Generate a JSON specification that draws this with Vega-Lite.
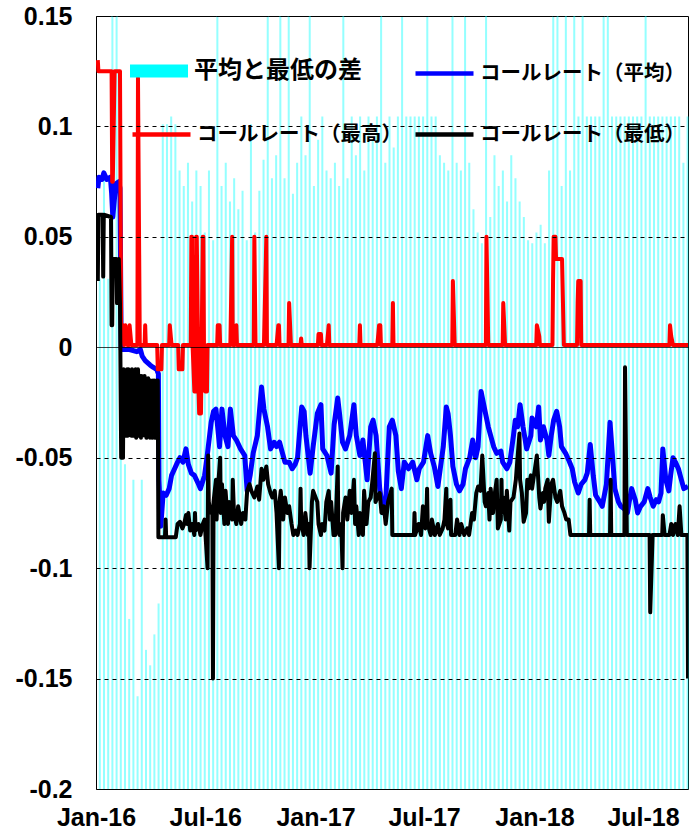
{
"$schema": "https://vega.github.io/schema/vega-lite/v6.json",
"width": 592, "height": 773,
"autosize": {"type": "none"},
"padding": {"left": 96, "top": 16, "right": 2, "bottom": 41},
"background": "#ffffff",
"config": {"view": {"stroke": "#000000", "strokeWidth": 1}, "font": "Liberation Sans"},
"datasets": {
"gap": [
{"d":"2016-01-06","g":0.033},{"d":"2016-01-13","g":0.040},{"d":"2016-01-20","g":0.033},{"d":"2016-01-27","g":0.050},{"d":"2016-02-03","g":0.050},{"d":"2016-02-10","g":0.040},{"d":"2016-02-17","g":0.021},{"d":"2016-02-24","g":0.011},{"d":"2016-03-02","g":0.020},{"d":"2016-03-09","g":0.006},{"d":"2016-03-16","g":0.020},{"d":"2016-03-23","g":0.009},{"d":"2016-03-30","g":0.008},{"d":"2016-04-06","g":0.010},{"d":"2016-04-13","g":0.012},{"d":"2016-04-20","g":0.043},{"d":"2016-04-27","g":0.043},{"d":"2016-05-04","g":0.0435},{"d":"2016-05-11","g":0.043},{"d":"2016-05-18","g":0.040},{"d":"2016-05-25","g":0.039},{"d":"2016-06-01","g":0.0405},{"d":"2016-06-08","g":0.038},{"d":"2016-06-15","g":0.040},{"d":"2016-06-22","g":0.039},{"d":"2016-06-29","g":0.036},{"d":"2016-07-06","g":0.040},{"d":"2016-07-13","g":0.0355},{"d":"2016-07-20","g":0.050},{"d":"2016-07-27","g":0.039},{"d":"2016-08-03","g":0.0405},{"d":"2016-08-10","g":0.038},{"d":"2016-08-17","g":0.0395},{"d":"2016-08-24","g":0.0375},{"d":"2016-08-31","g":0.0387},{"d":"2016-09-07","g":0.0355},{"d":"2016-09-14","g":0.043},{"d":"2016-09-21","g":0.036},{"d":"2016-09-28","g":0.0387},{"d":"2016-10-05","g":0.0407},{"d":"2016-10-12","g":0.050},{"d":"2016-10-19","g":0.0395},{"d":"2016-10-26","g":0.041},{"d":"2016-11-02","g":0.050},{"d":"2016-11-09","g":0.0395},{"d":"2016-11-16","g":0.050},{"d":"2016-11-23","g":0.0385},{"d":"2016-11-30","g":0.0405},{"d":"2016-12-07","g":0.0435},{"d":"2016-12-14","g":0.041},{"d":"2016-12-21","g":0.050},{"d":"2016-12-28","g":0.039},
{"d":"2017-01-04","g":0.042},{"d":"2017-01-11","g":0.0435},{"d":"2017-01-18","g":0.040},{"d":"2017-01-25","g":0.0395},{"d":"2017-02-01","g":0.0405},{"d":"2017-02-08","g":0.039},{"d":"2017-02-15","g":0.050},{"d":"2017-02-22","g":0.0395},{"d":"2017-03-01","g":0.0435},{"d":"2017-03-08","g":0.041},{"d":"2017-03-15","g":0.0435},{"d":"2017-03-22","g":0.040},{"d":"2017-03-29","g":0.0435},{"d":"2017-04-05","g":0.042},{"d":"2017-04-12","g":0.0435},{"d":"2017-04-19","g":0.050},{"d":"2017-04-26","g":0.0405},{"d":"2017-05-03","g":0.0435},{"d":"2017-05-10","g":0.0415},{"d":"2017-05-17","g":0.0435},{"d":"2017-05-24","g":0.050},{"d":"2017-05-31","g":0.0435},{"d":"2017-06-07","g":0.0435},{"d":"2017-06-14","g":0.0435},{"d":"2017-06-21","g":0.0435},{"d":"2017-06-28","g":0.0435},{"d":"2017-07-05","g":0.050},{"d":"2017-07-12","g":0.0435},{"d":"2017-07-19","g":0.0435},{"d":"2017-07-26","g":0.041},{"d":"2017-08-02","g":0.0405},{"d":"2017-08-09","g":0.040},{"d":"2017-08-16","g":0.050},{"d":"2017-08-23","g":0.0405},{"d":"2017-08-30","g":0.040},{"d":"2017-09-06","g":0.050},{"d":"2017-09-13","g":0.0405},{"d":"2017-09-20","g":0.0375},{"d":"2017-09-27","g":0.036},{"d":"2017-10-04","g":0.0353},{"d":"2017-10-11","g":0.050},{"d":"2017-10-18","g":0.037},{"d":"2017-10-25","g":0.041},{"d":"2017-11-01","g":0.039},{"d":"2017-11-08","g":0.040},{"d":"2017-11-15","g":0.038},{"d":"2017-11-22","g":0.041},{"d":"2017-11-29","g":0.0395},{"d":"2017-12-06","g":0.038},{"d":"2017-12-13","g":0.037},{"d":"2017-12-20","g":0.0355},{"d":"2017-12-27","g":0.0353},
{"d":"2018-01-03","g":0.036},{"d":"2018-01-10","g":0.0365},{"d":"2018-01-17","g":0.0353},{"d":"2018-01-24","g":0.040},{"d":"2018-01-31","g":0.050},{"d":"2018-02-07","g":0.050},{"d":"2018-02-14","g":0.039},{"d":"2018-02-21","g":0.050},{"d":"2018-02-28","g":0.040},{"d":"2018-03-07","g":0.050},{"d":"2018-03-14","g":0.0435},{"d":"2018-03-21","g":0.050},{"d":"2018-03-28","g":0.0435},{"d":"2018-04-04","g":0.0435},{"d":"2018-04-11","g":0.0435},{"d":"2018-04-18","g":0.0435},{"d":"2018-04-25","g":0.050},{"d":"2018-05-02","g":0.050},{"d":"2018-05-09","g":0.0435},{"d":"2018-05-16","g":0.0435},{"d":"2018-05-23","g":0.0435},{"d":"2018-05-30","g":0.0435},{"d":"2018-06-06","g":0.0435},{"d":"2018-06-13","g":0.0435},{"d":"2018-06-20","g":0.0435},{"d":"2018-06-27","g":0.0435},{"d":"2018-07-04","g":0.050},{"d":"2018-07-11","g":0.0435},{"d":"2018-07-18","g":0.0435},{"d":"2018-07-25","g":0.0435},{"d":"2018-08-01","g":0.0435},{"d":"2018-08-08","g":0.0435},{"d":"2018-08-15","g":0.0435},{"d":"2018-08-22","g":0.0435},{"d":"2018-08-29","g":0.0435},{"d":"2018-09-05","g":0.0405},{"d":"2018-09-12","g":0.0435}
],
"avg": [
{"d":"2016-01-04","v":0.072},{"d":"2016-01-06","v":0.077},{"d":"2016-01-11","v":0.076},{"d":"2016-01-14","v":0.079},{"d":"2016-01-19","v":0.076},{"d":"2016-01-25","v":0.077},{"d":"2016-01-27","v":0.070},{"d":"2016-01-29","v":0.059},{"d":"2016-02-03","v":0.074},{"d":"2016-02-08","v":0.075},{"d":"2016-02-10","v":0.072},{"d":"2016-02-12","v":-0.001},{"d":"2016-02-26","v":-0.001},{"d":"2016-03-09","v":-0.002},{"d":"2016-03-15","v":-0.001},{"d":"2016-03-18","v":-0.004},{"d":"2016-03-23","v":-0.006},{"d":"2016-03-31","v":-0.008},{"d":"2016-04-05","v":-0.009},{"d":"2016-04-11","v":-0.010},{"d":"2016-04-14","v":-0.012},{"d":"2016-04-15","v":-0.060},{"d":"2016-04-18","v":-0.081},{"d":"2016-04-22","v":-0.066},{"d":"2016-04-27","v":-0.067},{"d":"2016-05-02","v":-0.064},{"d":"2016-05-06","v":-0.058},{"d":"2016-05-11","v":-0.055},{"d":"2016-05-16","v":-0.052},{"d":"2016-05-20","v":-0.050},{"d":"2016-05-25","v":-0.052},{"d":"2016-05-30","v":-0.046},{"d":"2016-06-03","v":-0.053},{"d":"2016-06-08","v":-0.057},{"d":"2016-06-13","v":-0.058},{"d":"2016-06-20","v":-0.062},{"d":"2016-06-23","v":-0.064},{"d":"2016-06-30","v":-0.058},{"d":"2016-07-04","v":-0.050},{"d":"2016-07-11","v":-0.034},{"d":"2016-07-15","v":-0.029},{"d":"2016-07-19","v":-0.028},{"d":"2016-07-25","v":-0.045},{"d":"2016-07-29","v":-0.028},{"d":"2016-08-03","v":-0.040},{"d":"2016-08-08","v":-0.045},{"d":"2016-08-12","v":-0.028},{"d":"2016-08-17","v":-0.040},{"d":"2016-08-22","v":-0.042},{"d":"2016-08-29","v":-0.046},{"d":"2016-09-05","v":-0.049},{"d":"2016-09-09","v":-0.065},{"d":"2016-09-14","v":-0.058},{"d":"2016-09-19","v":-0.048},{"d":"2016-09-26","v":-0.040},{"d":"2016-10-03","v":-0.018},{"d":"2016-10-07","v":-0.028},{"d":"2016-10-13","v":-0.036},{"d":"2016-10-18","v":-0.046},{"d":"2016-10-24","v":-0.043},{"d":"2016-10-28","v":-0.045},{"d":"2016-11-02","v":-0.043},{"d":"2016-11-07","v":-0.048},{"d":"2016-11-11","v":-0.052},{"d":"2016-11-18","v":-0.052},{"d":"2016-11-23","v":-0.055},{"d":"2016-11-28","v":-0.053},{"d":"2016-12-02","v":-0.050},{"d":"2016-12-09","v":-0.027},{"d":"2016-12-13","v":-0.029},{"d":"2016-12-16","v":-0.040},{"d":"2016-12-23","v":-0.057},{"d":"2016-12-28","v":-0.045},
{"d":"2017-01-04","v":-0.030},{"d":"2017-01-10","v":-0.026},{"d":"2017-01-13","v":-0.046},{"d":"2017-01-20","v":-0.049},{"d":"2017-01-27","v":-0.057},{"d":"2017-02-01","v":-0.035},{"d":"2017-02-07","v":-0.023},{"d":"2017-02-10","v":-0.030},{"d":"2017-02-15","v":-0.043},{"d":"2017-02-20","v":-0.046},{"d":"2017-02-27","v":-0.040},{"d":"2017-03-06","v":-0.026},{"d":"2017-03-10","v":-0.040},{"d":"2017-03-16","v":-0.049},{"d":"2017-03-21","v":-0.042},{"d":"2017-03-28","v":-0.060},{"d":"2017-04-03","v":-0.036},{"d":"2017-04-07","v":-0.033},{"d":"2017-04-12","v":-0.040},{"d":"2017-04-18","v":-0.064},{"d":"2017-04-24","v":-0.075},{"d":"2017-04-28","v":-0.070},{"d":"2017-05-04","v":-0.036},{"d":"2017-05-09","v":-0.033},{"d":"2017-05-15","v":-0.040},{"d":"2017-05-19","v":-0.056},{"d":"2017-05-24","v":-0.064},{"d":"2017-05-29","v":-0.052},{"d":"2017-06-05","v":-0.055},{"d":"2017-06-12","v":-0.052},{"d":"2017-06-19","v":-0.060},{"d":"2017-06-23","v":-0.055},{"d":"2017-06-30","v":-0.052},{"d":"2017-07-07","v":-0.040},{"d":"2017-07-12","v":-0.048},{"d":"2017-07-18","v":-0.054},{"d":"2017-07-24","v":-0.063},{"d":"2017-07-28","v":-0.055},{"d":"2017-08-02","v":-0.045},{"d":"2017-08-07","v":-0.027},{"d":"2017-08-10","v":-0.030},{"d":"2017-08-14","v":-0.040},{"d":"2017-08-18","v":-0.054},{"d":"2017-08-24","v":-0.062},{"d":"2017-08-29","v":-0.065},{"d":"2017-09-04","v":-0.062},{"d":"2017-09-08","v":-0.055},{"d":"2017-09-15","v":-0.050},{"d":"2017-09-20","v":-0.042},{"d":"2017-09-25","v":-0.050},{"d":"2017-09-29","v":-0.045},{"d":"2017-10-04","v":-0.020},{"d":"2017-10-10","v":-0.028},{"d":"2017-10-16","v":-0.036},{"d":"2017-10-20","v":-0.040},{"d":"2017-10-25","v":-0.045},{"d":"2017-10-30","v":-0.048},{"d":"2017-11-06","v":-0.047},{"d":"2017-11-09","v":-0.052},{"d":"2017-11-16","v":-0.055},{"d":"2017-11-21","v":-0.052},{"d":"2017-11-27","v":-0.040},{"d":"2017-11-30","v":-0.033},{"d":"2017-12-04","v":-0.036},{"d":"2017-12-08","v":-0.026},{"d":"2017-12-13","v":-0.036},{"d":"2017-12-19","v":-0.046},{"d":"2017-12-26","v":-0.040},{"d":"2017-12-28","v":-0.032},
{"d":"2018-01-04","v":-0.036},{"d":"2018-01-08","v":-0.027},{"d":"2018-01-11","v":-0.042},{"d":"2018-01-16","v":-0.036},{"d":"2018-01-22","v":-0.042},{"d":"2018-01-25","v":-0.049},{"d":"2018-01-29","v":-0.040},{"d":"2018-02-02","v":-0.033},{"d":"2018-02-07","v":-0.029},{"d":"2018-02-12","v":-0.036},{"d":"2018-02-15","v":-0.045},{"d":"2018-02-22","v":-0.048},{"d":"2018-02-27","v":-0.051},{"d":"2018-03-05","v":-0.055},{"d":"2018-03-09","v":-0.061},{"d":"2018-03-15","v":-0.066},{"d":"2018-03-20","v":-0.062},{"d":"2018-03-26","v":-0.060},{"d":"2018-03-30","v":-0.057},{"d":"2018-04-04","v":-0.044},{"d":"2018-04-09","v":-0.058},{"d":"2018-04-13","v":-0.067},{"d":"2018-04-20","v":-0.070},{"d":"2018-04-24","v":-0.072},{"d":"2018-05-01","v":-0.062},{"d":"2018-05-07","v":-0.034},{"d":"2018-05-10","v":-0.045},{"d":"2018-05-15","v":-0.064},{"d":"2018-05-21","v":-0.070},{"d":"2018-05-25","v":-0.072},{"d":"2018-05-30","v":-0.073},{"d":"2018-06-05","v":-0.075},{"d":"2018-06-08","v":-0.070},{"d":"2018-06-12","v":-0.064},{"d":"2018-06-18","v":-0.069},{"d":"2018-06-22","v":-0.075},{"d":"2018-06-27","v":-0.072},{"d":"2018-07-03","v":-0.070},{"d":"2018-07-09","v":-0.064},{"d":"2018-07-13","v":-0.068},{"d":"2018-07-18","v":-0.072},{"d":"2018-07-23","v":-0.069},{"d":"2018-07-27","v":-0.070},{"d":"2018-07-31","v":-0.066},{"d":"2018-08-03","v":-0.046},{"d":"2018-08-08","v":-0.060},{"d":"2018-08-13","v":-0.065},{"d":"2018-08-16","v":-0.058},{"d":"2018-08-20","v":-0.050},{"d":"2018-08-24","v":-0.052},{"d":"2018-08-29","v":-0.055},{"d":"2018-09-03","v":-0.060},{"d":"2018-09-07","v":-0.064},{"d":"2018-09-14","v":-0.063}
],
"max": [
{"d":"2016-01-04","v":0.130},{"d":"2016-01-05","v":0.125},{"d":"2016-01-27","v":0.125},{"d":"2016-01-28","v":0.075},{"d":"2016-01-29","v":0.075},{"d":"2016-02-01","v":0.125},{"d":"2016-02-10","v":0.125},{"d":"2016-02-12","v":0.005},{"d":"2016-02-15","v":0.010},{"d":"2016-02-17","v":0.001},{"d":"2016-02-19","v":0.010},{"d":"2016-02-22","v":0.001},{"d":"2016-02-25","v":0.001},{"d":"2016-02-26","v":0.010},{"d":"2016-02-29","v":0.001},{"d":"2016-03-10","v":0.001},{"d":"2016-03-11","v":0.122},{"d":"2016-03-14","v":0.001},{"d":"2016-03-22","v":0.001},{"d":"2016-03-23","v":0.010},{"d":"2016-03-24","v":0.001},{"d":"2016-04-12","v":0.001},{"d":"2016-04-13","v":-0.010},{"d":"2016-04-19","v":-0.010},{"d":"2016-04-20","v":0.001},{"d":"2016-05-02","v":0.001},{"d":"2016-05-03","v":0.010},{"d":"2016-05-06","v":0.001},{"d":"2016-05-17","v":0.001},{"d":"2016-05-18","v":-0.010},{"d":"2016-05-24","v":-0.010},{"d":"2016-05-25","v":0.001},{"d":"2016-06-07","v":0.001},{"d":"2016-06-08","v":0.050},{"d":"2016-06-09","v":0.050},{"d":"2016-06-10","v":0.001},{"d":"2016-06-13","v":-0.020},{"d":"2016-06-14","v":-0.010},{"d":"2016-06-15","v":-0.020},{"d":"2016-06-16","v":0.050},{"d":"2016-06-17","v":0.050},{"d":"2016-06-20","v":-0.020},{"d":"2016-06-21","v":-0.030},{"d":"2016-06-22","v":-0.030},{"d":"2016-06-23","v":-0.015},{"d":"2016-06-24","v":-0.030},{"d":"2016-06-27","v":0.050},{"d":"2016-06-28","v":0.050},{"d":"2016-06-29","v":0.001},{"d":"2016-06-30","v":-0.010},{"d":"2016-07-01","v":-0.020},{"d":"2016-07-04","v":-0.020},{"d":"2016-07-05","v":0.001},{"d":"2016-07-21","v":0.001},{"d":"2016-07-22","v":0.010},{"d":"2016-07-25","v":0.010},{"d":"2016-07-26","v":0.001},{"d":"2016-08-12","v":0.001},{"d":"2016-08-15","v":0.050},{"d":"2016-08-16","v":0.001},{"d":"2016-08-19","v":0.001},{"d":"2016-08-22","v":0.010},{"d":"2016-08-23","v":0.001},{"d":"2016-09-20","v":0.001},{"d":"2016-09-21","v":0.050},{"d":"2016-09-23","v":0.001},{"d":"2016-10-07","v":0.001},{"d":"2016-10-11","v":0.050},{"d":"2016-10-12","v":0.001},{"d":"2016-10-28","v":0.001},{"d":"2016-10-31","v":0.010},{"d":"2016-11-01","v":0.010},{"d":"2016-11-02","v":0.001},{"d":"2016-11-17","v":0.001},{"d":"2016-11-18","v":0.020},{"d":"2016-11-21","v":0.001},{"d":"2016-12-07","v":0.001},{"d":"2016-12-08","v":0.004},{"d":"2016-12-09","v":0.001},
{"d":"2017-01-05","v":0.001},{"d":"2017-01-06","v":0.006},{"d":"2017-01-10","v":0.006},{"d":"2017-01-11","v":0.001},{"d":"2017-01-20","v":0.001},{"d":"2017-01-23","v":0.010},{"d":"2017-01-24","v":0.001},{"d":"2017-03-15","v":0.001},{"d":"2017-03-16","v":0.010},{"d":"2017-03-17","v":0.001},{"d":"2017-04-14","v":0.001},{"d":"2017-04-17","v":0.010},{"d":"2017-04-19","v":0.010},{"d":"2017-04-20","v":0.001},{"d":"2017-05-09","v":0.001},{"d":"2017-05-10","v":0.020},{"d":"2017-05-11","v":0.001},{"d":"2017-08-17","v":0.001},{"d":"2017-08-18","v":0.030},{"d":"2017-08-21","v":0.001},{"d":"2017-10-12","v":0.001},{"d":"2017-10-13","v":0.050},{"d":"2017-10-16","v":0.001},{"d":"2017-11-09","v":0.001},{"d":"2017-11-10","v":0.020},{"d":"2017-11-13","v":0.001},
{"d":"2018-01-04","v":0.001},{"d":"2018-01-05","v":0.010},{"d":"2018-01-09","v":0.005},{"d":"2018-01-10","v":0.001},{"d":"2018-01-31","v":0.001},{"d":"2018-02-01","v":0.030},{"d":"2018-02-02","v":0.050},{"d":"2018-02-05","v":0.050},{"d":"2018-02-06","v":0.040},{"d":"2018-02-16","v":0.040},{"d":"2018-02-19","v":0.001},{"d":"2018-03-13","v":0.001},{"d":"2018-03-14","v":0.020},{"d":"2018-03-15","v":0.030},{"d":"2018-03-19","v":0.030},{"d":"2018-03-20","v":0.001},{"d":"2018-08-14","v":0.001},{"d":"2018-08-15","v":0.010},{"d":"2018-08-17","v":0.005},{"d":"2018-08-20","v":0.001},{"d":"2018-09-14","v":0.001}
],
"min": [
{"d":"2016-01-04","v":0.030},{"d":"2016-01-05","v":0.060},{"d":"2016-01-12","v":0.060},{"d":"2016-01-13","v":0.032},{"d":"2016-01-14","v":0.060},{"d":"2016-01-26","v":0.059},{"d":"2016-01-27","v":0.010},{"d":"2016-01-28","v":0.010},{"d":"2016-01-29","v":0.040},{"d":"2016-02-04","v":0.040},{"d":"2016-02-05","v":0.020},{"d":"2016-02-08","v":0.040},{"d":"2016-02-10","v":0.020},{"d":"2016-02-12","v":-0.050},{"d":"2016-02-15","v":-0.050},{"d":"2016-02-16","v":-0.010},{"d":"2016-02-17","v":-0.040},{"d":"2016-02-18","v":-0.012},{"d":"2016-02-19","v":-0.040},{"d":"2016-02-22","v":-0.010},{"d":"2016-02-23","v":-0.040},{"d":"2016-02-24","v":-0.010},{"d":"2016-02-25","v":-0.038},{"d":"2016-02-26","v":-0.012},{"d":"2016-02-29","v":-0.040},{"d":"2016-03-01","v":-0.010},{"d":"2016-03-02","v":-0.040},{"d":"2016-03-03","v":-0.012},{"d":"2016-03-04","v":-0.040},{"d":"2016-03-07","v":-0.010},{"d":"2016-03-08","v":-0.041},{"d":"2016-03-09","v":-0.012},{"d":"2016-03-10","v":-0.040},{"d":"2016-03-11","v":-0.010},{"d":"2016-03-14","v":-0.040},{"d":"2016-03-15","v":-0.013},{"d":"2016-03-16","v":-0.041},{"d":"2016-03-17","v":-0.013},{"d":"2016-03-18","v":-0.040},{"d":"2016-03-22","v":-0.013},{"d":"2016-03-23","v":-0.040},{"d":"2016-03-24","v":-0.014},{"d":"2016-03-25","v":-0.041},{"d":"2016-03-28","v":-0.014},{"d":"2016-03-29","v":-0.040},{"d":"2016-03-30","v":-0.015},{"d":"2016-03-31","v":-0.041},{"d":"2016-04-01","v":-0.015},{"d":"2016-04-04","v":-0.041},{"d":"2016-04-05","v":-0.015},{"d":"2016-04-06","v":-0.040},{"d":"2016-04-07","v":-0.015},{"d":"2016-04-08","v":-0.041},{"d":"2016-04-11","v":-0.015},{"d":"2016-04-12","v":-0.040},{"d":"2016-04-13","v":-0.015},{"d":"2016-04-14","v":-0.086},{"d":"2016-04-25","v":-0.086},{"d":"2016-04-26","v":-0.078},{"d":"2016-04-27","v":-0.086},{"d":"2016-05-13","v":-0.086},{"d":"2016-05-16","v":-0.080},{"d":"2016-05-20","v":-0.079},{"d":"2016-05-24","v":-0.082},{"d":"2016-05-27","v":-0.080},{"d":"2016-05-30","v":-0.076},{"d":"2016-06-01","v":-0.080},{"d":"2016-06-03","v":-0.075},{"d":"2016-06-06","v":-0.083},{"d":"2016-06-09","v":-0.080},{"d":"2016-06-13","v":-0.085},{"d":"2016-06-14","v":-0.075},{"d":"2016-06-15","v":-0.083},{"d":"2016-06-20","v":-0.080},{"d":"2016-06-23","v":-0.085},{"d":"2016-06-27","v":-0.080},{"d":"2016-06-30","v":-0.078},{"d":"2016-07-05","v":-0.100},{"d":"2016-07-06","v":-0.049},{"d":"2016-07-07","v":-0.070},{"d":"2016-07-11","v":-0.075},{"d":"2016-07-13","v":-0.075},{"d":"2016-07-14","v":-0.150},{"d":"2016-07-15","v":-0.070},{"d":"2016-07-19","v":-0.060},{"d":"2016-07-20","v":-0.078},{"d":"2016-07-22","v":-0.065},{"d":"2016-07-26","v":-0.050},{"d":"2016-07-27","v":-0.075},{"d":"2016-07-29","v":-0.062},{"d":"2016-08-02","v":-0.080},{"d":"2016-08-04","v":-0.065},{"d":"2016-08-08","v":-0.080},{"d":"2016-08-10","v":-0.070},{"d":"2016-08-15","v":-0.078},{"d":"2016-08-16","v":-0.060},{"d":"2016-08-18","v":-0.075},{"d":"2016-08-22","v":-0.080},{"d":"2016-08-25","v":-0.072},{"d":"2016-08-30","v":-0.080},{"d":"2016-09-02","v":-0.075},{"d":"2016-09-06","v":-0.078},{"d":"2016-09-09","v":-0.065},{"d":"2016-09-13","v":-0.062},{"d":"2016-09-16","v":-0.065},{"d":"2016-09-21","v":-0.068},{"d":"2016-09-26","v":-0.063},{"d":"2016-09-29","v":-0.069},{"d":"2016-10-03","v":-0.055},{"d":"2016-10-06","v":-0.060},{"d":"2016-10-11","v":-0.054},{"d":"2016-10-14","v":-0.062},{"d":"2016-10-18","v":-0.066},{"d":"2016-10-21","v":-0.068},{"d":"2016-10-25","v":-0.065},{"d":"2016-10-28","v":-0.075},{"d":"2016-11-01","v":-0.100},{"d":"2016-11-02","v":-0.070},{"d":"2016-11-04","v":-0.065},{"d":"2016-11-08","v":-0.078},{"d":"2016-11-11","v":-0.068},{"d":"2016-11-15","v":-0.075},{"d":"2016-11-18","v":-0.072},{"d":"2016-11-22","v":-0.080},{"d":"2016-11-25","v":-0.085},{"d":"2016-11-29","v":-0.083},{"d":"2016-12-02","v":-0.085},{"d":"2016-12-06","v":-0.080},{"d":"2016-12-07","v":-0.064},{"d":"2016-12-08","v":-0.078},{"d":"2016-12-12","v":-0.085},{"d":"2016-12-15","v":-0.075},{"d":"2016-12-19","v":-0.085},{"d":"2016-12-21","v":-0.080},{"d":"2016-12-22","v":-0.100},{"d":"2016-12-26","v":-0.070},{"d":"2016-12-28","v":-0.065},
{"d":"2017-01-04","v":-0.070},{"d":"2017-01-06","v":-0.080},{"d":"2017-01-10","v":-0.085},{"d":"2017-01-12","v":-0.080},{"d":"2017-01-16","v":-0.083},{"d":"2017-01-19","v":-0.070},{"d":"2017-01-23","v":-0.065},{"d":"2017-01-25","v":-0.078},{"d":"2017-01-27","v":-0.070},{"d":"2017-01-31","v":-0.085},{"d":"2017-02-03","v":-0.085},{"d":"2017-02-07","v":-0.054},{"d":"2017-02-08","v":-0.080},{"d":"2017-02-10","v":-0.085},{"d":"2017-02-13","v":-0.080},{"d":"2017-02-15","v":-0.100},{"d":"2017-02-16","v":-0.075},{"d":"2017-02-20","v":-0.068},{"d":"2017-02-23","v":-0.078},{"d":"2017-02-27","v":-0.065},{"d":"2017-03-02","v":-0.075},{"d":"2017-03-06","v":-0.060},{"d":"2017-03-08","v":-0.080},{"d":"2017-03-10","v":-0.072},{"d":"2017-03-14","v":-0.085},{"d":"2017-03-16","v":-0.075},{"d":"2017-03-21","v":-0.085},{"d":"2017-03-23","v":-0.065},{"d":"2017-03-27","v":-0.080},{"d":"2017-03-30","v":-0.070},{"d":"2017-04-03","v":-0.068},{"d":"2017-04-06","v":-0.060},{"d":"2017-04-10","v":-0.048},{"d":"2017-04-11","v":-0.070},{"d":"2017-04-14","v":-0.068},{"d":"2017-04-18","v":-0.066},{"d":"2017-04-21","v":-0.075},{"d":"2017-04-25","v":-0.072},{"d":"2017-04-28","v":-0.080},{"d":"2017-05-02","v":-0.070},{"d":"2017-05-08","v":-0.064},{"d":"2017-05-09","v":-0.085},{"d":"2017-06-14","v":-0.085},{"d":"2017-06-15","v":-0.075},{"d":"2017-06-16","v":-0.085},{"d":"2017-06-22","v":-0.080},{"d":"2017-06-26","v":-0.085},{"d":"2017-06-29","v":-0.072},{"d":"2017-07-03","v":-0.082},{"d":"2017-07-05","v":-0.075},{"d":"2017-07-06","v":-0.064},{"d":"2017-07-07","v":-0.080},{"d":"2017-07-12","v":-0.085},{"d":"2017-07-14","v":-0.078},{"d":"2017-07-19","v":-0.085},{"d":"2017-07-24","v":-0.080},{"d":"2017-07-27","v":-0.085},{"d":"2017-08-01","v":-0.082},{"d":"2017-08-04","v":-0.078},{"d":"2017-08-07","v":-0.064},{"d":"2017-08-08","v":-0.080},{"d":"2017-08-10","v":-0.082},{"d":"2017-08-14","v":-0.069},{"d":"2017-08-15","v":-0.085},{"d":"2017-08-22","v":-0.085},{"d":"2017-08-25","v":-0.078},{"d":"2017-08-29","v":-0.085},{"d":"2017-09-01","v":-0.080},{"d":"2017-09-06","v":-0.085},{"d":"2017-09-11","v":-0.082},{"d":"2017-09-14","v":-0.085},{"d":"2017-09-19","v":-0.075},{"d":"2017-09-22","v":-0.078},{"d":"2017-09-26","v":-0.066},{"d":"2017-09-29","v":-0.063},{"d":"2017-10-03","v":-0.065},{"d":"2017-10-06","v":-0.049},{"d":"2017-10-10","v":-0.070},{"d":"2017-10-12","v":-0.072},{"d":"2017-10-16","v":-0.066},{"d":"2017-10-18","v":-0.078},{"d":"2017-10-20","v":-0.064},{"d":"2017-10-24","v":-0.075},{"d":"2017-10-26","v":-0.068},{"d":"2017-10-30","v":-0.060},{"d":"2017-11-01","v":-0.082},{"d":"2017-11-06","v":-0.078},{"d":"2017-11-07","v":-0.060},{"d":"2017-11-08","v":-0.075},{"d":"2017-11-10","v":-0.068},{"d":"2017-11-14","v":-0.078},{"d":"2017-11-16","v":-0.065},{"d":"2017-11-20","v":-0.083},{"d":"2017-11-22","v":-0.070},{"d":"2017-11-27","v":-0.068},{"d":"2017-11-29","v":-0.064},{"d":"2017-12-01","v":-0.060},{"d":"2017-12-07","v":-0.039},{"d":"2017-12-08","v":-0.060},{"d":"2017-12-11","v":-0.066},{"d":"2017-12-14","v":-0.079},{"d":"2017-12-18","v":-0.075},{"d":"2017-12-20","v":-0.060},{"d":"2017-12-22","v":-0.064},{"d":"2017-12-26","v":-0.058},{"d":"2017-12-28","v":-0.064},
{"d":"2018-01-05","v":-0.049},{"d":"2018-01-09","v":-0.068},{"d":"2018-01-11","v":-0.073},{"d":"2018-01-15","v":-0.066},{"d":"2018-01-17","v":-0.070},{"d":"2018-01-19","v":-0.064},{"d":"2018-01-23","v":-0.060},{"d":"2018-01-25","v":-0.079},{"d":"2018-01-29","v":-0.062},{"d":"2018-02-01","v":-0.060},{"d":"2018-02-05","v":-0.068},{"d":"2018-02-08","v":-0.070},{"d":"2018-02-13","v":-0.065},{"d":"2018-02-16","v":-0.072},{"d":"2018-02-20","v":-0.075},{"d":"2018-02-23","v":-0.078},{"d":"2018-02-27","v":-0.078},{"d":"2018-03-02","v":-0.085},{"d":"2018-04-02","v":-0.085},{"d":"2018-04-03","v":-0.069},{"d":"2018-04-04","v":-0.085},{"d":"2018-05-07","v":-0.085},{"d":"2018-05-08","v":-0.060},{"d":"2018-05-09","v":-0.085},{"d":"2018-05-31","v":-0.085},{"d":"2018-06-01","v":-0.009},{"d":"2018-06-04","v":-0.085},{"d":"2018-07-12","v":-0.085},{"d":"2018-07-13","v":-0.120},{"d":"2018-07-17","v":-0.085},{"d":"2018-08-02","v":-0.085},{"d":"2018-08-03","v":-0.076},{"d":"2018-08-06","v":-0.085},{"d":"2018-08-14","v":-0.085},{"d":"2018-08-17","v":-0.080},{"d":"2018-08-20","v":-0.085},{"d":"2018-08-24","v":-0.080},{"d":"2018-08-28","v":-0.085},{"d":"2018-08-31","v":-0.072},{"d":"2018-09-03","v":-0.085},{"d":"2018-09-13","v":-0.085},{"d":"2018-09-14","v":-0.150}
]
},
"layer": [
{
"data": {"name": "gap"},
"mark": {"type": "bar", "width": {"band": 0.72}, "fillOpacity": 0.42},
"encoding": {
"x": {"field": "d", "timeUnit": "utcyearweek", "type": "temporal",
"scale": {"type": "utc", "domain": [{"year": 2016, "month": 1, "date": 1, "utc": true}, {"year": 2018, "month": 9, "date": 14, "utc": true}], "padding": 0, "nice": false},
"axis": {"title": null, "values": [{"year": 2016, "month": 1, "date": 1, "utc": true}, {"year": 2016, "month": 7, "date": 1, "utc": true}, {"year": 2017, "month": 1, "date": 1, "utc": true}, {"year": 2017, "month": 7, "date": 1, "utc": true}, {"year": 2018, "month": 1, "date": 1, "utc": true}, {"year": 2018, "month": 7, "date": 1, "utc": true}], "format": "%b-%y", "labelFont": "Liberation Sans", "labelFontSize": 25, "labelFontWeight": "bold", "labelColor": "#000000", "ticks": false, "domain": false, "grid": false, "labelPadding": 16, "labelOverlap": false, "labelFlush": false, "labelBound": false}},
"y": {"field": "g", "type": "quantitative", "scale": {"domain": [0, 0.05], "nice": false}, "axis": null},
"fill": {"datum": "平均と最低の差", "type": "nominal",
"scale": {"domain": ["平均と最低の差"], "range": ["#00ffff"]},
"legend": {"orient": "none", "legendX": 34, "legendY": 26, "title": null, "symbolType": "M-1,-0.22L1,-0.22L1,0.22L-1,0.22Z", "symbolSize": 3364, "symbolStrokeWidth": 0, "symbolOpacity": 1, "symbolFillColor": "#00ffff", "labelFont": "Noto Sans CJK JP", "labelFontSize": 24, "labelFontWeight": "bold", "labelColor": "#000000", "labelLimit": 400, "labelOffset": 6, "padding": 0, "offset": 0}}
}
},
{
"encoding": {
"x": {"field": "d", "type": "temporal",
"scale": {"type": "utc", "domain": [{"year": 2016, "month": 1, "date": 1, "utc": true}, {"year": 2018, "month": 9, "date": 14, "utc": true}], "padding": 0, "nice": false},
"axis": {"title": null, "values": [{"year": 2016, "month": 1, "date": 1, "utc": true}, {"year": 2016, "month": 7, "date": 1, "utc": true}, {"year": 2017, "month": 1, "date": 1, "utc": true}, {"year": 2017, "month": 7, "date": 1, "utc": true}, {"year": 2018, "month": 1, "date": 1, "utc": true}, {"year": 2018, "month": 7, "date": 1, "utc": true}], "format": "%b-%y", "labelFont": "Liberation Sans", "labelFontSize": 25, "labelFontWeight": "bold", "labelColor": "#000000", "ticks": false, "domain": false, "grid": false, "labelPadding": 16, "labelOverlap": false, "labelFlush": false, "labelBound": false}},
"y": {"field": "v", "type": "quantitative", "scale": {"domain": [-0.2, 0.15], "nice": false},
"axis": {"title": null, "orient": "left", "values": [-0.2, -0.15, -0.1, -0.05, 0, 0.05, 0.1, 0.15], "labelExpr": "datum.value < 0 ? '-' + format(-datum.value, '~g') : format(datum.value, '~g')", "labelFont": "Liberation Sans", "labelFontSize": 25, "labelFontWeight": "bold", "labelColor": "#000000", "ticks": false, "domain": false, "labelPadding": 24, "labelOverlap": false, "labelBound": false, "grid": true, "gridColor": "#000000", "gridOpacity": 1, "gridWidth": 1, "gridDash": {"condition": {"test": "datum.value === 0", "value": [1, 0]}, "value": [4, 4]}, "zindex": 1}}
},
"layer": [
{"data": {"name": "avg"}, "mark": {"type": "line", "strokeWidth": 5, "strokeJoin": "round", "clip": true},
"encoding": {"color": {"datum": "コールレート（平均）", "type": "nominal",
"scale": {"domain": ["平均と最低の差", "コールレート（最高）", "コールレート（平均）", "コールレート（最低）"], "range": ["transparent", "#ff0000", "#0000ff", "#000000"]},
"legend": {"orient": "none", "legendX": 34, "legendY": 26, "columns": 2, "title": null, "symbolType": "stroke", "symbolSize": 3364, "symbolStrokeWidth": 4.5, "symbolOpacity": 1, "labelExpr": "datum.value === '平均と最低の差' ? '' : datum.label", "labelFont": "Noto Sans CJK JP", "labelFontSize": 20.5, "labelFontWeight": "bold", "labelColor": "#000000", "labelLimit": 400, "labelOffset": 4, "rowPadding": 19, "columnPadding": 4, "padding": 0, "offset": 0}}}},
{"data": {"name": "max"}, "mark": {"type": "line", "strokeWidth": 4, "strokeJoin": "round", "clip": true}, "encoding": {"color": {"datum": "コールレート（最高）", "type": "nominal"}}},
{"data": {"name": "min"}, "mark": {"type": "line", "strokeWidth": 4, "strokeJoin": "round", "clip": true}, "encoding": {"color": {"datum": "コールレート（最低）", "type": "nominal"}}}
]
}
],
"resolve": {"scale": {"y": "independent"}}
}
